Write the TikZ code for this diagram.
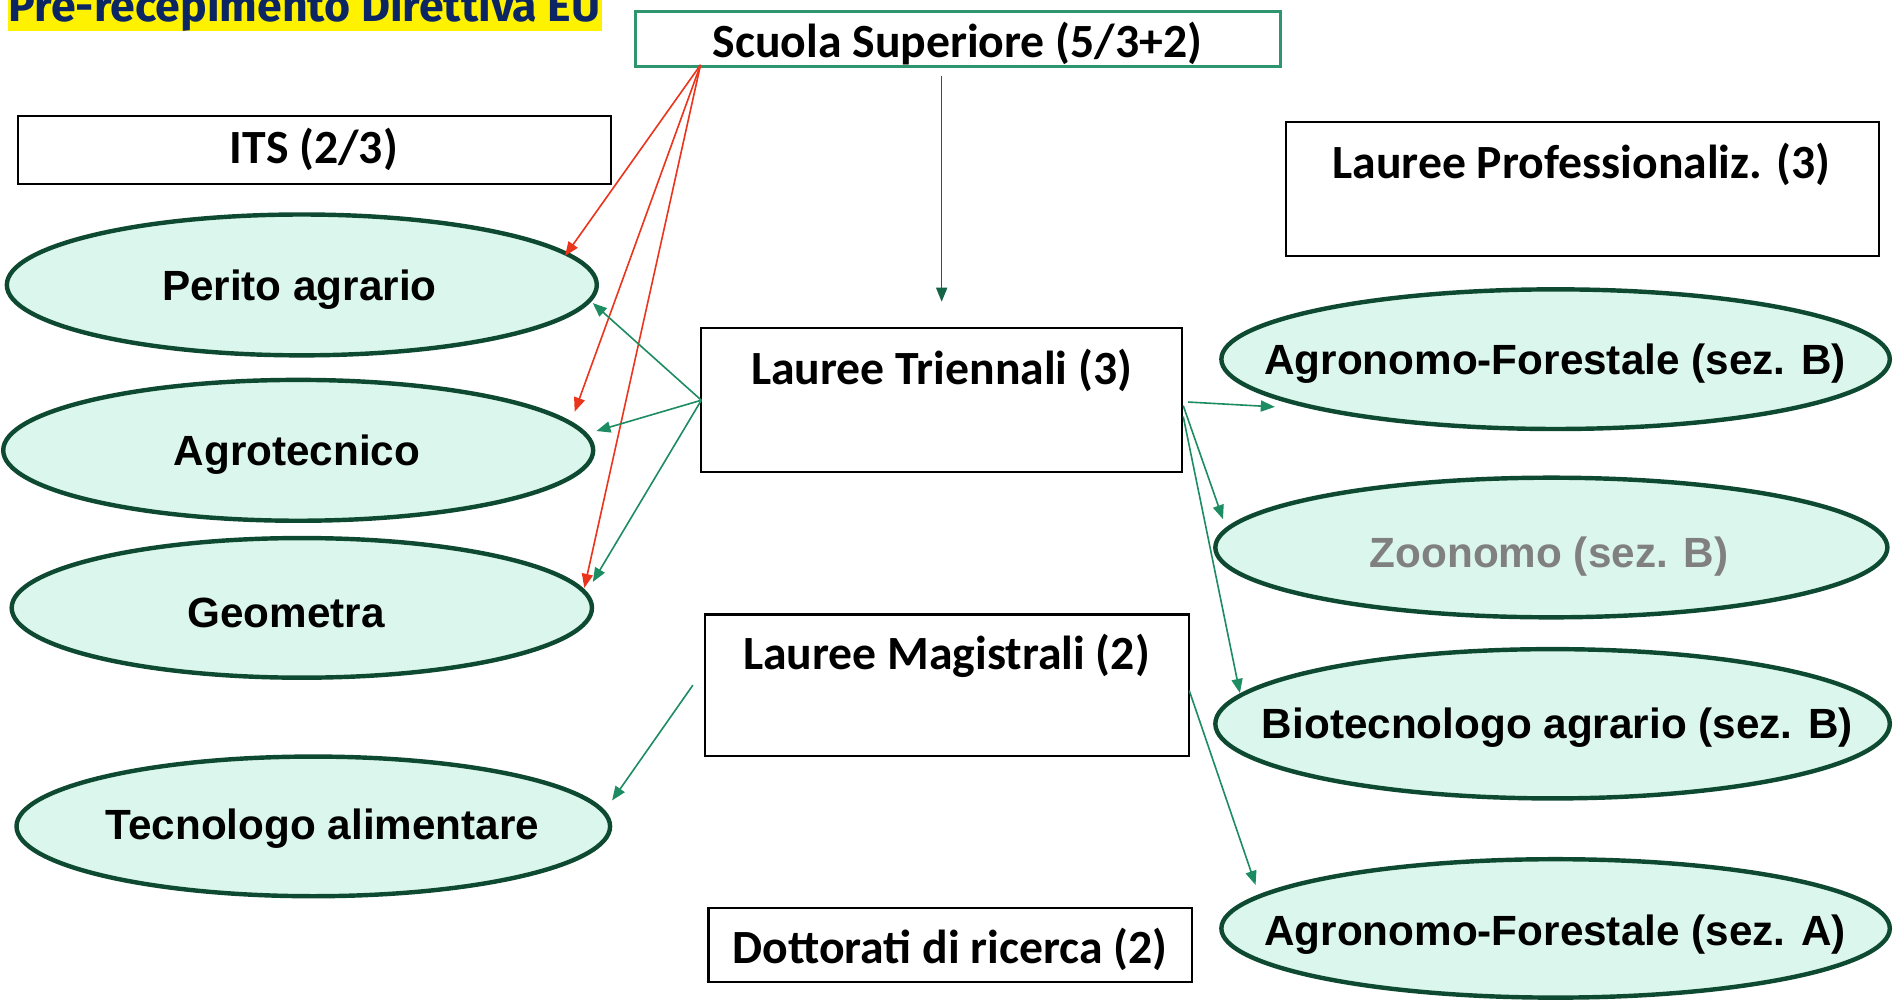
\documentclass[tikz,border=0pt]{standalone}
\usepackage{fontspec}
\setmainfont{Carlito}
\newfontfamily\arialf{Liberation Sans}
\newfontfamily\titlef{Fira Sans}
\usetikzlibrary{calc,shapes.geometric,arrows.meta}
\definecolor{ovalfill}{RGB}{219,246,236}
\definecolor{ovalline}{RGB}{14,74,50}
\definecolor{garrow}{RGB}{30,140,98}
\definecolor{gdark}{RGB}{20,100,70}
\definecolor{rarrow}{RGB}{235,52,28}
\definecolor{ssline}{RGB}{46,150,110}
\definecolor{navy}{RGB}{12,38,100}
\definecolor{graytxt}{RGB}{128,128,128}
\tikzset{
  box/.style={rectangle, draw=black, line width=1.1pt, fill=white, inner sep=0pt, outer sep=0pt},
  oval/.style={ellipse, draw=ovalline, fill=ovalfill, line width=2.2pt, inner sep=0pt, outer sep=0pt},
  btxt/.style={font=\bfseries\fontsize{23.7pt}{28pt}\selectfont, inner sep=0pt},
  otxt/.style={font=\arialf\bfseries\fontsize{21pt}{25pt}\selectfont, inner sep=0pt},
  garr/.style={draw=garrow, line width=0.8pt, -{Triangle[length=7pt,width=5.5pt]}},
  gdarr/.style={draw=gdark, line width=0.8pt, -{Triangle[length=7pt,width=5.5pt]}},
  rarr/.style={draw=rarrow, line width=0.8pt, -{Triangle[length=7pt,width=5.5pt]}}
}
\begin{document}
\begin{tikzpicture}[x=0.6pt,y=-0.6pt]
\useasboundingbox (0,0) rectangle (1568,829);
\clip (0,0) rectangle (1568,829);
% title
\fill[yellow] (7,-5) rectangle (499,26);
\node[anchor=base west, inner sep=0pt, text=navy] (title) at (7,18) {\resizebox{294pt}{!}{\titlef\bfseries Pre-recepimento Direttiva EU}};
% boxes
\node[box, draw=ssline, line width=1.5pt, minimum width=320.7pt, minimum height=27.3pt] (ss) at (793.5,32) {};
\node[btxt] (sst) at (793,36) {Scuola Superiore (5/3+2)};
\node[box, minimum width=294.7pt, minimum height=33.7pt] (its) at (260.5,124) {};
\node[btxt] (itst) at (260,124) {ITS (2/3)};
\node[box, minimum width=294.7pt, minimum height=66.7pt] (prof) at (1310.5,156.5) {};
\node[btxt] (proft) at (1310,136) {Lauree Professionaliz. (3)};
\node[box, minimum width=238.9pt, minimum height=71.5pt] (tri) at (780,331.5) {};
\node[btxt] (trit) at (780,307) {Lauree Triennali (3)};
\node[box, minimum width=240.7pt, minimum height=70.3pt] (mag) at (784.5,567.5) {};
\node[btxt] (magt) at (784,543) {Lauree Magistrali (2)};
\node[box, minimum width=240.1pt, minimum height=36.7pt] (dott) at (787,782.5) {};
\node[btxt] (dottt) at (787,786.5) {Dottorati di ricerca (2)};
% ellipses
\node[oval, minimum width=293.2pt, minimum height=70pt] (per) at (250,236) {};
\node[otxt] (pert) at (248,240) {Perito agrario};
\node[oval, minimum width=293.2pt, minimum height=70pt] (agr) at (247,373) {};
\node[otxt] (agrt) at (246,377) {Agrotecnico};
\node[oval, minimum width=288.4pt, minimum height=69.4pt] (geo) at (250,503.5) {};
\node[otxt] (geot) at (237,508) {Geometra};
\node[oval, minimum width=295pt, minimum height=69.4pt] (tec) at (259.5,684.5) {};
\node[otxt] (tect) at (267,686) {Tecnologo alimentare};
\node[oval, minimum width=332.2pt, minimum height=69.4pt] (agB) at (1288.5,297.5) {};
\node[otxt] (agBt) at (1288,301) {Agronomo-Forestale (sez. B)};
\node[oval, minimum width=334pt, minimum height=69.4pt] (zoo) at (1285,453.5) {};
\node[otxt, text=graytxt] (zoot) at (1283,461) {Zoonomo (sez. B)};
\node[oval, minimum width=335.2pt, minimum height=74.2pt] (bio) at (1286,599.5) {};
\node[otxt] (biot) at (1290,603) {Biotecnologo agrario (sez. B)};
\node[oval, minimum width=332.2pt, minimum height=68.8pt] (agA) at (1288.5,769) {};
\node[otxt] (agAt) at (1288,774) {Agronomo-Forestale (sez. A)};
% red arrows
\coordinate (rs) at ($(ss.south west)+(54,-1)$);
\draw[rarr] (rs) -- ($(per.center)+(218,-24)$);
\draw[rarr] (rs) -- ($(agr.center)+(229,-32)$);
\draw[rarr] (rs) -- ($(geo.center)+(234,-16.5)$);
% green arrows
\draw[gdarr] ($(ss.south)+(-13.5,8)$) -- ($(tri.north)+(0,-22)$);
\draw[garr] (tri.west) -- ($(per.center)+(241,15)$);
\draw[garr] (tri.west) -- ($(agr.center)+(247,-16)$);
\draw[garr] (tri.west) -- ($(geo.center)+(241,-21.5)$);
\draw[garr] ($(tri.east)+(5,1.5)$) -- ($(agB.center)+(-232.5,39.5)$);
\draw[garr] ($(tri.east)+(1,4.5)$) -- ($(zoo.center)+(-272,-23.5)$);
\draw[garr] ($(tri.east)+(1,13.5)$) -- ($(bio.center)+(-259,-25.5)$);
\draw[garr] ($(mag.west)+(-10,0)$) -- ($(tec.center)+(247.5,-21.5)$);
\draw[garr] ($(mag.east)+(0,4.5)$) -- ($(agA.center)+(-248.5,-36)$);
\end{tikzpicture}
\end{document}
